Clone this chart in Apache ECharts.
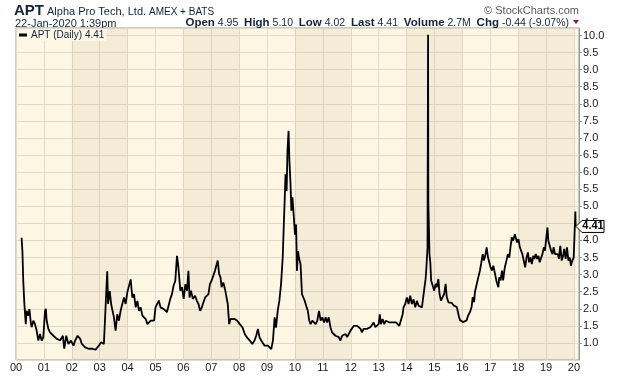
<!DOCTYPE html>
<html>
<head>
<meta charset="utf-8">
<script src="https://cdn.jsdelivr.net/npm/echarts@6/dist/echarts.min.js"></script>
<style>
  html, body { margin: 0; padding: 0; background: #fff; }
  #chart { width: 620px; height: 376px; }
</style>
</head>
<body>
<div id="chart"></div>
<script>
// APT daily close as [year, price]
var seg2000_2005 = [
  [2000.20, 4.08], [2000.23, 3.69], [2000.26, 2.82], [2000.30, 2.14], [2000.35, 1.55],
  [2000.38, 1.94], [2000.44, 1.80], [2000.48, 1.99], [2000.53, 1.60], [2000.56, 1.46],
  [2000.62, 1.65], [2000.68, 1.55], [2000.74, 1.36], [2000.80, 1.07], [2000.86, 1.26],
  [2000.92, 1.07], [2000.98, 1.17], [2001.04, 1.94], [2001.07, 2.00], [2001.10, 1.65],
  [2001.16, 1.41], [2001.22, 1.31], [2001.34, 1.21], [2001.46, 1.12], [2001.58, 1.07],
  [2001.68, 1.21], [2001.73, 0.83], [2001.80, 1.21], [2001.88, 0.97], [2001.97, 1.07],
  [2002.06, 0.92], [2002.12, 1.07], [2002.21, 1.21], [2002.30, 1.12], [2002.36, 0.97],
  [2002.48, 0.87], [2002.60, 0.83], [2002.73, 0.83], [2002.85, 0.80], [2002.97, 0.92],
  [2003.05, 1.02], [2003.15, 0.97], [2003.22, 1.02], [2003.27, 3.10], [2003.30, 2.14],
  [2003.36, 2.52], [2003.41, 2.14], [2003.46, 1.94], [2003.51, 1.75], [2003.57, 1.36],
  [2003.63, 1.84], [2003.69, 1.65], [2003.75, 1.94], [2003.81, 2.14], [2003.87, 2.33],
  [2003.93, 2.14], [2003.99, 2.48], [2004.05, 2.43], [2004.11, 2.86], [2004.17, 2.33],
  [2004.23, 2.43], [2004.29, 2.04], [2004.35, 2.23], [2004.41, 1.94], [2004.47, 2.04],
  [2004.53, 1.80], [2004.59, 1.75], [2004.65, 1.70], [2004.71, 1.55], [2004.77, 1.60],
  [2004.83, 1.65], [2004.89, 1.60], [2004.95, 1.65]
];
var seg2005_2010 = [
  [2005.00, 2.04], [2005.06, 1.99], [2005.12, 2.24], [2005.18, 2.04], [2005.24, 2.09],
  [2005.30, 1.99], [2005.36, 2.04], [2005.41, 1.90], [2005.47, 1.90], [2005.53, 2.29],
  [2005.59, 2.43], [2005.65, 2.68], [2005.71, 2.82], [2005.77, 3.55], [2005.81, 3.31],
  [2005.84, 3.02], [2005.89, 2.53], [2005.95, 2.63], [2006.01, 2.29], [2006.07, 2.72],
  [2006.13, 2.53], [2006.18, 3.11], [2006.22, 2.33], [2006.27, 2.53], [2006.34, 2.29],
  [2006.42, 2.38], [2006.48, 2.24], [2006.54, 2.14], [2006.60, 1.94], [2006.66, 2.04],
  [2006.72, 2.19], [2006.78, 2.33], [2006.84, 2.29], [2006.90, 2.43], [2006.95, 2.72],
  [2007.01, 2.82], [2007.07, 2.87], [2007.13, 3.11], [2007.19, 3.16], [2007.23, 3.41],
  [2007.28, 3.02], [2007.33, 2.92], [2007.37, 2.63], [2007.43, 2.77], [2007.49, 2.58],
  [2007.55, 2.63], [2007.59, 2.14], [2007.64, 1.55], [2007.69, 1.70], [2007.76, 1.75],
  [2007.84, 1.70], [2007.93, 1.65], [2008.02, 1.55], [2008.12, 1.45], [2008.20, 1.26],
  [2008.28, 1.16], [2008.38, 1.07], [2008.47, 0.97], [2008.55, 1.07], [2008.61, 1.21],
  [2008.67, 1.41], [2008.73, 1.16], [2008.79, 1.07], [2008.85, 1.02], [2008.91, 0.92],
  [2008.97, 0.97], [2009.03, 0.92], [2009.09, 0.87], [2009.15, 0.82], [2009.21, 1.07],
  [2009.27, 1.75], [2009.32, 1.45], [2009.38, 1.94], [2009.44, 2.24], [2009.50, 2.72],
  [2009.56, 3.50], [2009.60, 4.48], [2009.63, 5.16], [2009.66, 5.94], [2009.70, 5.45],
  [2009.73, 6.62], [2009.77, 7.21], [2009.80, 6.33], [2009.84, 5.65], [2009.87, 4.87],
  [2009.91, 5.26]
];
var seg2010_2015 = [
  [2009.96, 4.66], [2010.00, 4.17], [2010.04, 4.47], [2010.07, 3.11], [2010.11, 3.69],
  [2010.14, 3.50], [2010.20, 3.30], [2010.25, 2.43], [2010.30, 2.33], [2010.35, 2.23],
  [2010.42, 2.04], [2010.46, 1.94], [2010.51, 1.65], [2010.56, 1.55], [2010.62, 1.65],
  [2010.68, 1.60], [2010.74, 1.55], [2010.80, 1.65], [2010.86, 1.94], [2010.92, 1.65],
  [2010.98, 1.75], [2011.04, 1.60], [2011.10, 1.75], [2011.15, 1.60], [2011.21, 1.75],
  [2011.27, 1.46], [2011.33, 1.31], [2011.39, 1.26], [2011.45, 1.21], [2011.51, 1.26],
  [2011.57, 1.17], [2011.63, 1.07], [2011.69, 1.21], [2011.75, 1.17], [2011.81, 1.26],
  [2011.87, 1.17], [2011.93, 1.21], [2011.99, 1.36], [2012.05, 1.41], [2012.11, 1.50],
  [2012.17, 1.55], [2012.23, 1.50], [2012.29, 1.46], [2012.35, 1.41], [2012.40, 1.31],
  [2012.46, 1.41], [2012.52, 1.36], [2012.58, 1.41], [2012.64, 1.36], [2012.70, 1.46],
  [2012.76, 1.50], [2012.82, 1.60], [2012.88, 1.46], [2012.94, 1.41], [2013.00, 1.55],
  [2013.04, 1.84], [2013.08, 1.55], [2013.14, 1.70], [2013.20, 1.55], [2013.26, 1.65],
  [2013.32, 1.70], [2013.38, 1.60], [2013.44, 1.65], [2013.50, 1.60], [2013.56, 1.57],
  [2013.62, 1.60], [2013.68, 1.55], [2013.74, 1.50], [2013.80, 1.55], [2013.86, 1.84],
  [2013.89, 2.04], [2013.95, 2.14], [2014.01, 2.33], [2014.07, 2.14], [2014.13, 2.38],
  [2014.19, 2.14], [2014.25, 2.28], [2014.31, 2.04], [2014.37, 2.23], [2014.43, 2.09],
  [2014.49, 2.14], [2014.55, 2.04], [2014.61, 2.09], [2014.64, 2.62], [2014.68, 2.86],
  [2014.71, 3.20], [2014.75, 3.79], [2014.77, 10.02], [2014.78, 5.10], [2014.80, 4.40],
  [2014.82, 3.60]
];
var seg2015_2020 = [
  [2014.85, 3.36], [2014.88, 2.83], [2014.94, 2.78], [2014.99, 2.53], [2015.04, 2.73],
  [2015.08, 2.63], [2015.14, 2.87], [2015.18, 2.44], [2015.23, 2.24], [2015.30, 2.19],
  [2015.35, 2.44], [2015.40, 2.73], [2015.44, 2.34], [2015.50, 2.19], [2015.56, 2.15],
  [2015.62, 2.17], [2015.68, 2.10], [2015.74, 2.15], [2015.80, 2.05], [2015.85, 2.10],
  [2015.88, 1.76], [2015.92, 1.66], [2015.98, 1.71], [2016.04, 1.61], [2016.10, 1.66],
  [2016.15, 1.66], [2016.21, 1.81], [2016.27, 1.90], [2016.33, 2.05], [2016.37, 2.34],
  [2016.42, 2.19], [2016.45, 2.49], [2016.51, 2.53], [2016.57, 2.92], [2016.63, 3.12],
  [2016.67, 3.31], [2016.73, 3.60], [2016.77, 3.41], [2016.82, 3.55], [2016.87, 3.80],
  [2016.92, 3.50], [2016.96, 3.55], [2017.01, 3.21], [2017.06, 3.12], [2017.11, 3.26],
  [2017.17, 3.31], [2017.23, 2.78], [2017.29, 2.63], [2017.32, 2.92], [2017.37, 2.83],
  [2017.42, 3.12], [2017.46, 2.83], [2017.52, 3.21], [2017.58, 3.41], [2017.63, 3.60],
  [2017.68, 3.50], [2017.73, 3.84], [2017.77, 4.09], [2017.82, 3.99], [2017.88, 4.18],
  [2017.92, 4.23], [2017.96, 3.94], [2018.01, 4.04], [2018.06, 3.80], [2018.11, 3.84],
  [2018.15, 3.60], [2018.20, 3.41], [2018.25, 3.21], [2018.30, 3.50], [2018.35, 3.65],
  [2018.39, 3.36], [2018.44, 3.50], [2018.49, 3.31], [2018.54, 3.55], [2018.58, 3.46],
  [2018.63, 3.60], [2018.68, 3.46], [2018.73, 3.55], [2018.77, 3.36], [2018.82, 3.41],
  [2018.87, 3.60], [2018.92, 3.80], [2018.96, 3.70], [2019.01, 4.09], [2019.05, 4.38],
  [2019.08, 3.99], [2019.13, 4.04], [2019.18, 3.70], [2019.23, 3.60], [2019.27, 3.80],
  [2019.32, 3.60], [2019.37, 3.55], [2019.42, 3.60], [2019.46, 3.46], [2019.51, 3.84],
  [2019.56, 3.41], [2019.61, 3.55], [2019.65, 3.75], [2019.70, 3.46], [2019.75, 3.80],
  [2019.80, 3.41], [2019.85, 3.50], [2019.89, 3.26], [2019.94, 3.41], [2019.99, 3.50],
  [2020.02, 3.55], [2020.05, 4.85], [2020.06, 4.41]
];

// shaded two-year bands
var bandStarts = [2002, 2006, 2010, 2014, 2018];
var lastPrice = 4.41;

var prices = seg2000_2005.concat(seg2005_2010, seg2010_2015, seg2015_2020);

var FONT = '"Liberation Sans", Arial, sans-serif';
var TXT = '#13243a';

var chart = echarts.init(document.getElementById('chart'));

var option = {
  animation: false,
  backgroundColor: '#ffffff',
  textStyle: { fontFamily: FONT },
  grid: {
    left: 16, right: 41, top: 28, bottom: 16,
    show: true,
    backgroundColor: '#fdf6e3',
    borderColor: '#8e9c9c',
    borderWidth: 1
  },
  legend: {
    left: 17, top: 29,
    padding: [1, 2, 1, 2],
    backgroundColor: '#fdf7e8',
    icon: 'rect',
    itemWidth: 8, itemHeight: 3, itemGap: 4,
    textStyle: { fontSize: 10, color: TXT, fontFamily: FONT, padding: [0, 0, 0, -1] },
    data: ['APT (Daily) 4.41']
  },
  xAxis: {
    type: 'value',
    min: 2000, max: 2020.18, interval: 1,
    axisLine: { show: false },
    axisTick: { show: false },
    axisLabel: {
      fontSize: 11, color: '#1a1a1a', margin: 2,
      showMaxLabel: false,
      formatter: function (v) {
        if (Math.abs(v - Math.round(v)) > 1e-6) return '';
        var s = String(Math.round(v) % 100);
        return s.length < 2 ? '0' + s : s;
      }
    },
    splitLine: { lineStyle: { color: '#e2dac8', width: 1 } }
  },
  yAxis: {
    type: 'value',
    position: 'right',
    min: 0.5, max: 10.22, interval: 0.5,
    axisLine: { show: true, lineStyle: { color: '#8e9c9c' } },
    axisTick: { show: true, length: 3, lineStyle: { color: '#8e9c9c' } },
    axisLabel: {
      fontSize: 11, color: '#1a1a1a', margin: 4,
      showMinLabel: false, showMaxLabel: false,
      formatter: function (v) { return v < 0.9 ? '' : v.toFixed(1); }
    },
    splitLine: { lineStyle: { color: '#e2dac8', width: 1 } }
  },
  series: [{
    name: 'APT (Daily) 4.41',
    type: 'line',
    data: prices,
    showSymbol: false,
    symbol: 'none',
    itemStyle: { color: '#000' },
    lineStyle: { color: '#000', width: 1.8 },
    markArea: {
      silent: true,
      itemStyle: { color: 'rgba(150,125,80,0.08)' },
      data: bandStarts.map(function (s) { return [{ xAxis: s }, { xAxis: s + 2 }]; })
    }
  }],
  graphic: [
    { id: 'sym', type: 'text', left: 14, top: 3,
      style: { text: 'APT', font: 'bold 15px ' + FONT, fill: TXT } },
    { id: 'name', type: 'text', left: 47, top: 6,
      style: { text: 'Alpha Pro Tech, Ltd.', font: '11px ' + FONT, fill: TXT } },
    { id: 'exch', type: 'text', left: 149, top: 7,
      style: { text: 'AMEX + BATS', font: '10px ' + FONT, fill: TXT } },
    { id: 'date', type: 'text', left: 15, top: 18,
      style: { text: '22-Jan-2020 1:39pm', font: '11px ' + FONT, fill: TXT } },
    { id: 'copy', type: 'text', right: 41, top: 5,
      style: { text: '\u00A9 StockCharts.com', font: '11px ' + FONT, fill: '#5a5a5a' } },
    { id: 'quote', type: 'text', right: 51, top: 17,
      style: {
        text: '{b|Open} 4.95  {b|High} 5.10  {b|Low} 4.02  {b|Last} 4.41  {b|Volume} 2.7M  {b|Chg} -0.44 (-9.07%)',
        font: '10.5px ' + FONT, fill: TXT,
        rich: { b: { fontWeight: 'bold', fontSize: 11.5, fontFamily: FONT, fill: TXT } }
      } },
    { id: 'tri', type: 'polygon',
      shape: { points: [[573, 20], [579, 20], [576, 24]] },
      style: { fill: '#8c1238' } }
  ]
};

chart.setOption(option);

// last price tag on the right axis
var ty = chart.convertToPixel({ yAxisIndex: 0 }, lastPrice);
chart.setOption({
  graphic: [
    { id: 'tag', type: 'polygon', z: 50,
      shape: { points: [[576, ty], [582, ty - 6], [604, ty - 6], [604, ty + 6], [582, ty + 6]] },
      style: { fill: '#fffdf6', stroke: '#000', lineWidth: 1 } },
    { id: 'tagtxt', type: 'text', z: 51, x: 593, y: ty,
      style: { text: lastPrice.toFixed(2), font: 'bold 11px ' + FONT, fill: '#000',
               align: 'center', verticalAlign: 'middle' } }
  ]
});
</script>
</body>
</html>
